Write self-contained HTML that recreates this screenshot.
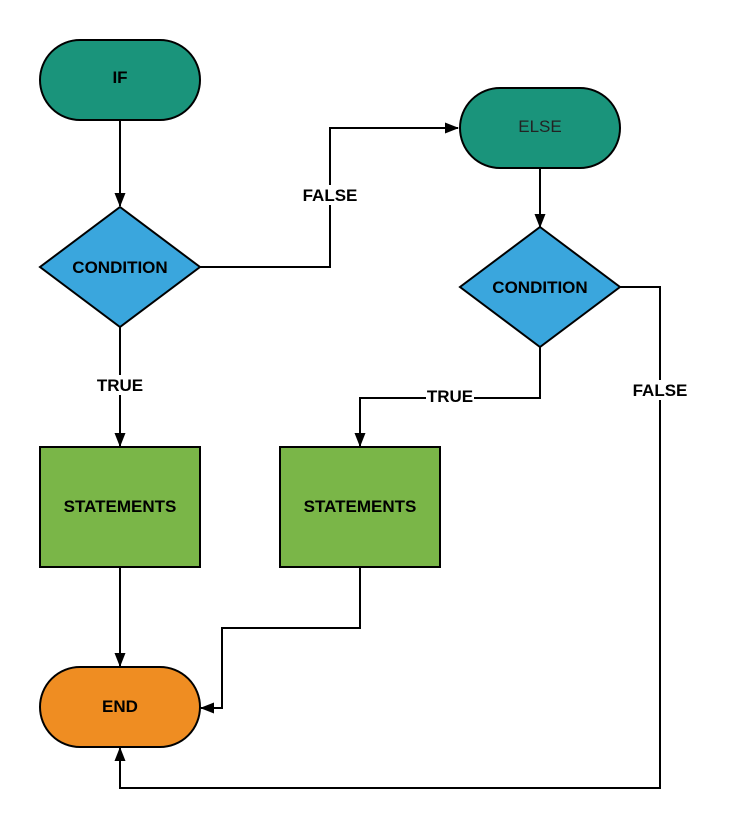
<!DOCTYPE html>
<html><head><meta charset="utf-8"><style>
html,body{margin:0;padding:0;background:#fff;}
svg{display:block;}
text{font-family:"Liberation Sans",sans-serif;font-size:17px;font-weight:bold;fill:#000;}
</style></head><body>
<svg width="731" height="830" viewBox="0 0 731 830" xmlns="http://www.w3.org/2000/svg">
<defs>
<marker id="a" markerWidth="14" markerHeight="12" refX="13" refY="6" orient="auto" markerUnits="userSpaceOnUse">
<path d="M0,0.5 L14,6 L0,11.5 Z" fill="#000"/>
</marker>
</defs>
<g fill="none" stroke="#000" stroke-width="2">
<path d="M120,120 V206" marker-end="url(#a)"/>
<path d="M200,267 H330 V128 H458" marker-end="url(#a)"/>
<path d="M540,168 V227" marker-end="url(#a)"/>
<path d="M120,327 V446" marker-end="url(#a)"/>
<path d="M540,347 V398 H360 V446" marker-end="url(#a)"/>
<path d="M620,287 H660 V788 H120 V748" marker-end="url(#a)"/>
<path d="M120,567 V666" marker-end="url(#a)"/>
<path d="M360,567 V628 H222 V708 H201" marker-end="url(#a)"/>
</g>
<g stroke="#000" stroke-width="2">
<rect x="40" y="40" width="160" height="80" rx="40" fill="#1a947b"/>
<rect x="460" y="88" width="160" height="80" rx="40" fill="#1a947b"/>
<polygon points="120,207 200,267 120,327 40,267" fill="#3aa6dd"/>
<polygon points="540,227 620,287 540,347 460,287" fill="#3aa6dd"/>
<rect x="40" y="447" width="160" height="120" fill="#7ab648"/>
<rect x="280" y="447" width="160" height="120" fill="#7ab648"/>
<rect x="40" y="667" width="160" height="80" rx="40" fill="#ef8d22"/>
</g>
<g text-anchor="middle">
<text x="120" y="83">IF</text>
<text x="540" y="132" style="font-weight:normal;fill:#222">ELSE</text>
<text x="120" y="273">CONDITION</text>
<text x="540" y="293">CONDITION</text>
<text x="120" y="512">STATEMENTS</text>
<text x="360" y="512">STATEMENTS</text>
<text x="120" y="712">END</text>
<rect x="300" y="185" width="60" height="20" fill="#fff"/>
<text x="330" y="201">FALSE</text>
<rect x="95" y="375" width="50" height="20" fill="#fff"/>
<text x="120" y="391">TRUE</text>
<rect x="426" y="388" width="48" height="18" fill="#fff"/>
<text x="450" y="402">TRUE</text>
<rect x="630" y="380" width="60" height="20" fill="#fff"/>
<text x="660" y="396">FALSE</text>
</g>
</svg>
</body></html>
